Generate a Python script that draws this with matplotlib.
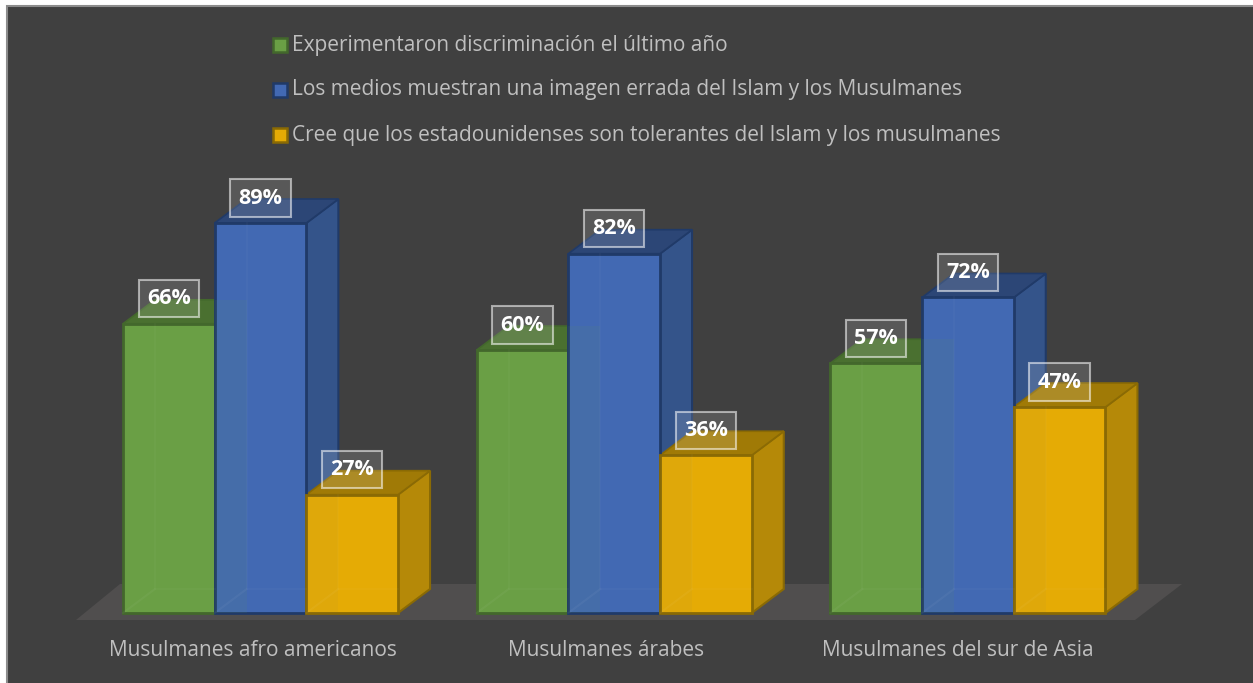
import matplotlib
matplotlib.use('Agg')
import matplotlib.pyplot as plt
from matplotlib.patches import Polygon, Rectangle
import numpy as np

W, H = 1253, 683
categorias = ['Musulmanes afro americanos', 'Musulmanes árabes', 'Musulmanes del sur de Asia']
series = ['Experimentaron discriminación el último año',
          'Los medios muestran una imagen errada del Islam y los Musulmanes',
          'Cree que los estadounidenses son tolerantes del Islam y los musulmanes']
discriminacion = [66, 60, 57]
medios = [89, 82, 72]
tolerantes = [27, 36, 47]
valores = [discriminacion, medios, tolerantes]

frente = ['#6a9f45', '#4269b3', '#e5ab05']
lado = ['#527a35', '#34548a', '#b58908']
techo = ['#4a7030', '#2c4676', '#a07a06']
borde = ['#43682c', '#203a68', '#8a6a04']
transparencia = [0.09, 0.03, 0.0]

plt.rcParams['font.family'] = ['Open Sans', 'DejaVu Sans']

fig = plt.figure(figsize=(W / 100, H / 100), dpi=100, facecolor='white')

# fondo oscuro, el borde gris solo se ve arriba y a la izquierda
fondo = fig.add_axes([0, 0, 1, 1])
fondo.set_xlim(0, W)
fondo.set_ylim(H, 0)
fondo.axis('off')
fondo.add_patch(Rectangle((6.5, 5.5), W + 20, H + 20, fc='#404040', ec='#8c8c8c', lw=1.5))
# suelo del grafico
fondo.add_patch(Polygon([(76, 620), (120, 584), (1182, 584), (1135, 620)], fc='#504e4e', ec='none'))

# ejes: x = indice de grupo, y = porcentaje
px_x = 353.7
px_y = 390.0 / 89
x0 = 260.5
y0 = 613.0
ax = fig.add_axes([0, 0, 1, 1])
ax.patch.set_alpha(0)
ax.set_xlim(-x0 / px_x, (W - x0) / px_x)
ax.set_ylim(-(H - y0) / px_y, y0 / px_y)
ax.axis('off')

ancho = 91.7 / px_x
dx = 32 / px_x
dy = 24 / px_y


def caja(x, v, i, v_sig):
    # x es el borde izquierdo de la barra, v_sig el valor de la barra de la derecha
    r = x + ancho
    # lateral y techo
    ax.add_patch(Polygon([(r, 0), (r + dx, dy), (r + dx, v + dy), (r, v)],
                         fc=lado[i], ec=borde[i], lw=1.5, zorder=2))
    ax.add_patch(Polygon([(x, v), (x + dx, v + dy), (r + dx, v + dy), (r, v)],
                         fc=techo[i], ec=borde[i], lw=1.2, zorder=2))
    # cara frontal
    ax.add_patch(Rectangle((x, 0), ancho, v, fc=frente[i], ec=borde[i], lw=2, zorder=3))
    # la parte de atras se transparenta en la barra de al lado
    if v_sig is not None:
        alto = min(v + dy, v_sig)
        ax.add_patch(Rectangle((r, 0), dx, alto, fc=frente[i], ec='none', alpha=transparencia[i], zorder=4))
    # cantos interiores muy suaves
    ax.plot([x + dx, x + dx, r], [v, dy, dy], color='white', alpha=0.025, lw=1.5, zorder=4)
    ax.plot([x, x + dx], [0, dy], color='white', alpha=0.04, lw=1.5, zorder=4)


grupos = np.arange(len(categorias))
for g in grupos:
    for i in range(len(series)):
        x = g + (i - 1.5) * ancho
        sig = valores[i + 1][g] if i < len(series) - 1 else None
        caja(x, valores[i][g], i, sig)

# etiquetas despues de las cajas, para que queden encima
for g in grupos:
    for i in range(len(series)):
        x = g + (i - 1) * ancho
        v = valores[i][g]
        ax.annotate(f'{v}%', (x, v), xytext=(0, 25 * 0.72), textcoords='offset points',
                    ha='center', va='center', color='white', fontsize=15.5, fontweight='bold', zorder=6,
                    bbox=dict(boxstyle='square,pad=0.38', fc=(1, 1, 1, 0.13), ec=(1, 1, 1, 0.55), lw=1.5))

# categorias
desplaza = [-8, -8, -10]
for g in grupos:
    ax.text(g + desplaza[g] / px_x, -(651 - y0) / px_y, categorias[g], ha='center', va='center',
            color='#bfbfbf', fontsize=15)

# leyenda
ley_y = [45, 89.5, 134.5]
for i in range(len(series)):
    fondo.add_patch(Rectangle((272.5, ley_y[i] - 7), 14, 14, fc=frente[i], ec=borde[i], lw=1.8))
    fondo.text(292, ley_y[i] + 0.5, series[i], ha='left', va='center', color='#bfbfbf', fontsize=15)

fig.savefig('out.png', dpi=100, facecolor='white')
